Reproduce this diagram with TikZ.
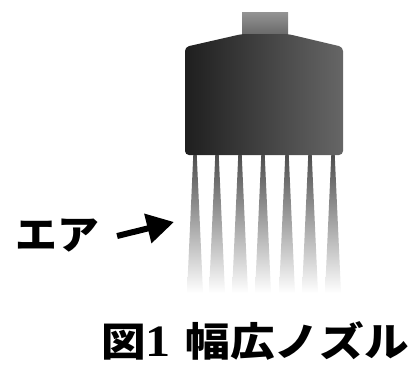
\documentclass[tikz,border=0pt]{standalone}
\usepackage{fontspec}
\setmainfont{Liberation Serif}
\newfontfamily\jpfont{Noto Sans CJK JP}
\usetikzlibrary{arrows.meta}
\tikzset{body/.style={left color=black!88, right color=black!60, rounded corners=4bp},
 nozzlecap/.style={top color=black!42, bottom color=black!60},
 jet/.style={top color=black!72, middle color=black!32, bottom color=white},
 jplabel/.style={font=\jpfont\bfseries\fontsize{40}{40}\selectfont, inner sep=0pt, anchor=west},
 airarrow/.style={-{Triangle[length=27bp,width=29bp]}, line width=6bp},
 }

\begin{document}
\begin{tikzpicture}[x=1bp, y=-1bp]
        \useasboundingbox (0,0) rectangle (414,372);
        % jets below the nozzle
        \foreach \x in {195,217,240,263,287,310,333}
            \shade[jet] (\x-1.5,150) -- (\x+1.5,150) -- (\x+8,293) -- (\x-8,293) -- cycle;
        \shade[nozzlecap] (242,12) rectangle (288,36);
        \shade[body] (185,155) -- (185,47) -- (242,34) -- (288,34) -- (343,47) -- (343,155) -- cycle;
        \node[jplabel, xscale=1.05] (air) at (15,236) {エア};
        \coordinate (airtip) at (174,222);
        \draw[airarrow] ([xshift=18bp]air.east) -- (airtip);
        \node[jplabel, xscale=1.12] (caption) at (101,341) {図{\rmfamily\bfseries\fontsize{45}{45}\selectfont 1}\hspace{4bp} 幅広ノズル};
    \end{tikzpicture}
\end{document}
